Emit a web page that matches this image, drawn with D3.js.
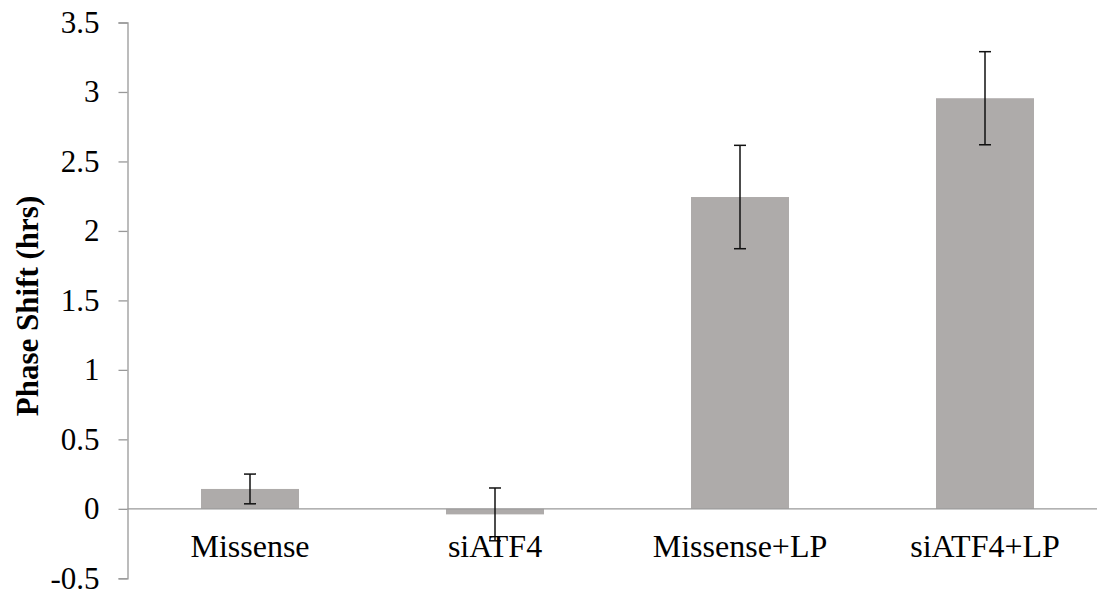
<!DOCTYPE html>
<html>
<head>
<meta charset="utf-8">
<script src="https://cdn.jsdelivr.net/npm/d3@7"></script>
<style>
  html, body { margin: 0; padding: 0; background: #fff; }
  svg { display: block; }
  svg text { font-family: "Liberation Serif", "DejaVu Serif", "Times New Roman", Times, serif; }
</style>
</head>
<body>
<div id="chart"></div>
<script>
const categories = ['Missense', 'siATF4', 'Missense+LP', 'siATF4+LP'];
const values = [0.143, -0.04, 2.244, 2.955];
const errors = [0.107, 0.19, 0.372, 0.335];
const yTicks = [-0.5, 0, 0.5, 1, 1.5, 2, 2.5, 3, 3.5];

const width = 1097, height = 594;
const axisX = 127.5;

const svg = d3.select('#chart')
  .append('svg')
  .attr('width', width)
  .attr('height', height);

const x = d3.scaleBand()
  .domain(categories)
  .range([axisX, axisX + 245 * 4])
  .paddingInner(0.6)
  .paddingOuter(0.3);

const y = d3.scaleLinear()
  .domain([-0.5, 3.5])
  .range([578.3, 22.5]);

// y axis
const yAxis = svg.append('g')
  .attr('transform', `translate(${axisX},0)`)
  .call(d3.axisLeft(y).tickValues(yTicks).tickSize(9).tickSizeOuter(9).tickPadding(19)
    .tickFormat(d => String(d)));
yAxis.attr('font-family', null).attr('font-size', null);
yAxis.selectAll('path, line').attr('stroke', '#999').attr('stroke-width', 1.3);
yAxis.selectAll('text')
  .style('font-size', '31px')
  .attr('dy', '0.32em')
  .attr('fill', '#000');

// bars
svg.append('g')
  .selectAll('rect')
  .data(categories)
  .join('rect')
  .attr('x', d => x(d))
  .attr('width', x.bandwidth())
  .attr('y', (d, i) => y(Math.max(0, values[i])))
  .attr('height', (d, i) => Math.abs(y(values[i]) - y(0)))
  .attr('fill', '#aeabaa');

// zero line
svg.append('line')
  .attr('x1', axisX).attr('x2', width)
  .attr('y1', y(0)).attr('y2', y(0))
  .attr('stroke', '#999')
  .attr('stroke-width', 1.3);

// error bars
const err = svg.append('g').attr('stroke', '#111').attr('stroke-width', 1.5);
categories.forEach((c, i) => {
  const cx = x(c) + x.bandwidth() / 2;
  const hi = y(values[i] + errors[i]);
  const lo = y(values[i] - errors[i]);
  err.append('line').attr('x1', cx).attr('x2', cx).attr('y1', hi).attr('y2', lo);
  err.append('line').attr('x1', cx - 6).attr('x2', cx + 6).attr('y1', hi).attr('y2', hi);
  err.append('line').attr('x1', cx - 6).attr('x2', cx + 6).attr('y1', lo).attr('y2', lo);
});

// category labels
svg.append('g')
  .selectAll('text')
  .data(categories)
  .join('text')
  .attr('x', d => x(d) + x.bandwidth() / 2)
  .attr('y', 557)
  .attr('text-anchor', 'middle')
  .style('font-size', '32px')
  .attr('fill', '#000')
  .text(d => d);

// y title
svg.append('text')
  .attr('transform', `translate(38,306) rotate(-90)`)
  .attr('text-anchor', 'middle')
  .style('font-size', '31px')
  .style('font-weight', 'bold')
  .attr('fill', '#000')
  .text('Phase Shift (hrs)');
</script>
</body>
</html>
